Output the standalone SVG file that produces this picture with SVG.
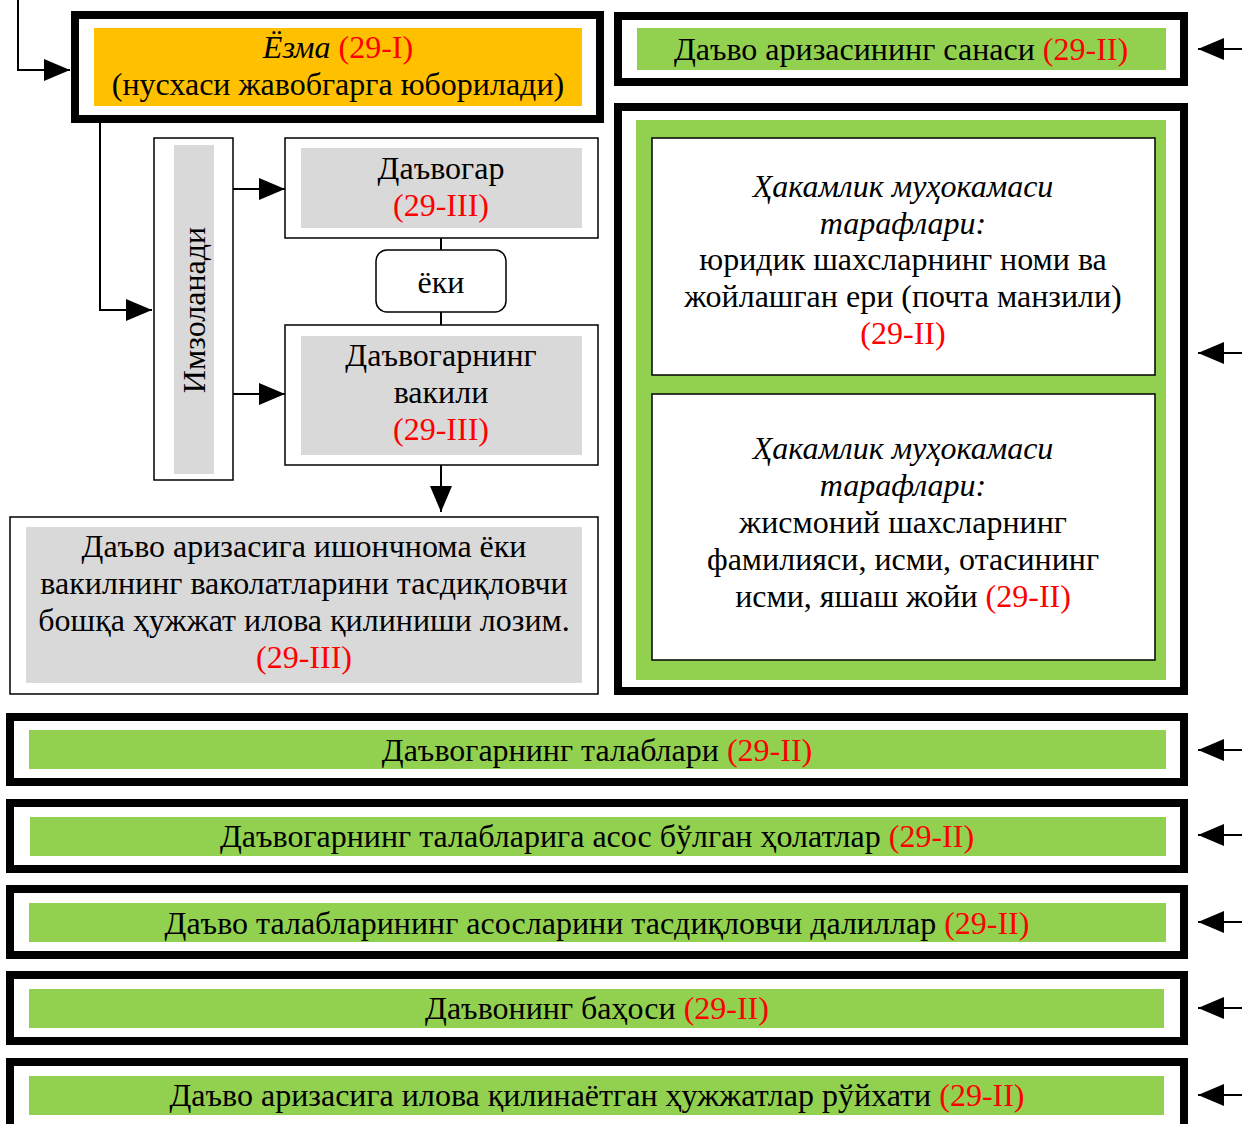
<svg xmlns="http://www.w3.org/2000/svg" width="1242" height="1124" viewBox="0 0 1242 1124">
<style>
text{font-family:"Liberation Serif","Times New Roman",serif;font-size:32px;fill:#000;text-anchor:middle}
.r{fill:#FF0000}
.i{font-style:italic}
.thick{fill:#fff;stroke:#000;stroke-width:8}
.thin{fill:#fff;stroke:#000;stroke-width:1.5}
.gray{fill:#D9D9D9}
.green{fill:#92D050}
.orange{fill:#FFC000}
.ln{fill:none;stroke:#000;stroke-width:2}
</style>
<defs>
<marker id="ah" viewBox="0 0 26 22" refX="26" refY="11" markerWidth="26" markerHeight="22" orient="auto" markerUnits="userSpaceOnUse">
<path d="M0,0 L26,11 L0,22 z" fill="#000"/>
</marker>
</defs>
<rect width="1242" height="1124" fill="#fff"/>

<g id="connectors">
<path class="ln" d="M18,0 V70 H70" marker-end="url(#ah)"/>
<path class="ln" d="M100,123 V310 H152" marker-end="url(#ah)"/>
<path class="ln" d="M233,189 H285" marker-end="url(#ah)"/>
<path class="ln" d="M233,394 H285" marker-end="url(#ah)"/>
<path class="ln" d="M441,238 V250 M441,312 V325"/>
<path class="ln" d="M441,465 V512" marker-end="url(#ah)"/>
<path class="ln" d="M1242,49 H1198" marker-end="url(#ah)"/>
<path class="ln" d="M1242,353 H1198" marker-end="url(#ah)"/>
<path class="ln" d="M1242,750 H1198" marker-end="url(#ah)"/>
<path class="ln" d="M1242,835 H1198" marker-end="url(#ah)"/>
<path class="ln" d="M1242,922 H1198" marker-end="url(#ah)"/>
<path class="ln" d="M1242,1008 H1198" marker-end="url(#ah)"/>
<path class="ln" d="M1242,1095 H1198" marker-end="url(#ah)"/>
</g>

<g id="yozma">
<rect class="thick" x="75" y="15" width="525" height="104"/>
<rect class="orange" x="94" y="28" width="488" height="78"/>
<text x="338" y="58"><tspan class="i">Ёзма</tspan> <tspan class="r">(29-I)</tspan></text>
<text x="338" y="95">(нусхаси жавобгарга юборилади)</text>
</g>

<g id="imzolanadi">
<rect class="thin" x="154" y="138" width="79" height="342"/>
<rect class="gray" x="174" y="145" width="40" height="329"/>
<text transform="translate(205,310) rotate(-90)">Имзоланади</text>
</g>

<g id="davogar">
<rect class="thin" x="285" y="138" width="313" height="100"/>
<rect class="gray" x="301" y="148" width="281" height="80"/>
<text x="441" y="179">Даъвогар</text>
<text x="441" y="216" class="r">(29-III)</text>
</g>

<g id="yoki">
<rect class="thin" x="376" y="250" width="130" height="62" rx="11"/>
<text x="441" y="293">ёки</text>
</g>

<g id="vakil">
<rect class="thin" x="285" y="325" width="313" height="140"/>
<rect class="gray" x="301" y="336" width="281" height="119"/>
<text x="441" y="366">Даъвогарнинг</text>
<text x="441" y="403">вакили</text>
<text x="441" y="440" class="r">(29-III)</text>
</g>

<g id="ishonchnoma">
<rect class="thin" x="10" y="517" width="588" height="177"/>
<rect class="gray" x="26" y="527" width="556" height="156"/>
<text x="304" y="557">Даъво аризасига ишончнома ёки</text>
<text x="304" y="594">вакилнинг ваколатларини тасдиқловчи</text>
<text x="304" y="631">бошқа ҳужжат илова қилиниши лозим.</text>
<text x="304" y="668" class="r">(29-III)</text>
</g>

<g id="sana">
<rect class="thick" x="618" y="16" width="566" height="66"/>
<rect class="green" x="637" y="28" width="529" height="42"/>
<text x="901" y="60">Даъво аризасининг санаси <tspan class="r">(29-II)</tspan></text>
</g>

<g id="taraflar">
<rect class="thick" x="618" y="107" width="566" height="584"/>
<rect class="green" x="636" y="120" width="530" height="560"/>
<rect class="thin" x="652" y="138" width="503" height="237"/>
<text x="903" y="197" class="i">Ҳакамлик муҳокамаси</text>
<text x="903" y="234" class="i">тарафлари:</text>
<text x="903" y="270">юридик шахсларнинг номи ва</text>
<text x="903" y="307">жойлашган ери (почта манзили)</text>
<text x="903" y="344" class="r">(29-II)</text>
<rect class="thin" x="652" y="394" width="503" height="266"/>
<text x="903" y="459" class="i">Ҳакамлик муҳокамаси</text>
<text x="903" y="496" class="i">тарафлари:</text>
<text x="903" y="533">жисмоний шахсларнинг</text>
<text x="903" y="570">фамилияси, исми, отасининг</text>
<text x="903" y="607">исми, яшаш жойи <tspan class="r">(29-II)</tspan></text>
</g>

<g id="talablar">
<rect class="thick" x="10" y="717" width="1174" height="65"/>
<rect class="green" x="29" y="730" width="1137" height="39"/>
<text x="597" y="761">Даъвогарнинг талаблари <tspan class="r">(29-II)</tspan></text>
</g>

<g id="holatlar">
<rect class="thick" x="10" y="803" width="1174" height="66"/>
<rect class="green" x="30" y="817" width="1136" height="39"/>
<text x="597" y="847">Даъвогарнинг талабларига асос бўлган ҳолатлар <tspan class="r">(29-II)</tspan></text>
</g>

<g id="dalillar">
<rect class="thick" x="10" y="889" width="1174" height="66"/>
<rect class="green" x="29" y="903" width="1137" height="39"/>
<text x="597" y="934">Даъво талабларининг асосларини тасдиқловчи далиллар <tspan class="r">(29-II)</tspan></text>
</g>

<g id="bahosi">
<rect class="thick" x="10" y="975" width="1174" height="66"/>
<rect class="green" x="29" y="989" width="1135" height="39"/>
<text x="597" y="1019">Даъвонинг баҳоси <tspan class="r">(29-II)</tspan></text>
</g>

<g id="royxat">
<rect class="thick" x="10" y="1062" width="1174" height="80"/>
<rect class="green" x="29" y="1076" width="1135" height="39"/>
<text x="597" y="1106">Даъво аризасига илова қилинаётган ҳужжатлар рўйхати <tspan class="r">(29-II)</tspan></text>
</g>
</svg>
